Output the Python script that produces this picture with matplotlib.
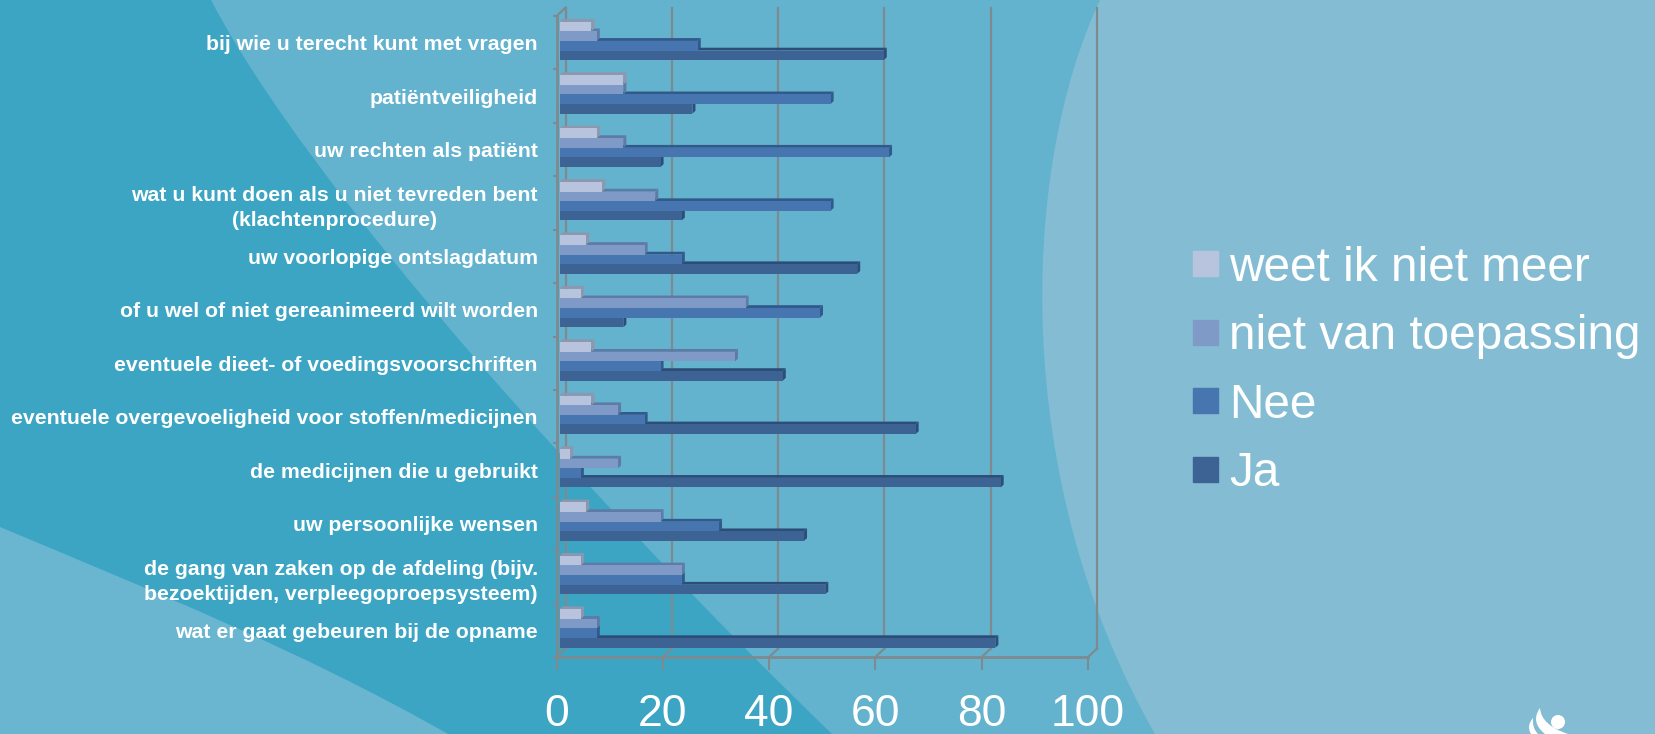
import numpy as np
import matplotlib
matplotlib.use('Agg')
import matplotlib.pyplot as plt
from matplotlib.patches import PathPatch, Circle
from matplotlib.path import Path

plt.rcParams['font.family'] = ['Liberation Sans', 'DejaVu Sans']

categories = ['bij wie u terecht kunt met vragen', 'patiëntveiligheid', 'uw rechten als patiënt',
              'wat u kunt doen als u niet tevreden bent\n(klachtenprocedure)', 'uw voorlopige ontslagdatum',
              'of u wel of niet gereanimeerd wilt worden', 'eventuele dieet- of voedingsvoorschriften',
              'eventuele overgevoeligheid voor stoffen/medicijnen', 'de medicijnen die u gebruikt',
              'uw persoonlijke wensen', 'de gang van zaken op de afdeling (bijv.\nbezoektijden, verpleegoproepsysteem)',
              'wat er gaat gebeuren bij de opname']
weet = [6, 12, 7, 8, 5, 4, 6, 6, 2, 5, 4, 4]
niet = [7, 12, 12, 18, 16, 35, 33, 11, 11, 19, 23, 7]
nee = [26, 51, 62, 51, 23, 49, 19, 16, 4, 30, 23, 7]
ja = [61, 25, 19, 23, 56, 12, 42, 67, 83, 46, 50, 82]
xticks = [0, 20, 40, 60, 80, 100]

series = [('Ja', ja, '#3D6395', '#2C4D78'), ('Nee', nee, '#4675B0', '#31598C'),
          ('niet van toepassing', niet, '#7F9AC6', '#5E7AA6'), ('weet ik niet meer', weet, '#B8C4DE', '#8E97AE')]

W, H = 1656, 734
fig = plt.figure(figsize=(W / 100, H / 100), dpi=100)

# background shapes, in pixels
bg = fig.add_axes([0, 0, 1, 1])
bg.set_xlim(0, W)
bg.set_ylim(H, 0)
bg.axis('off')
bg.add_patch(plt.Rectangle((0, 0), W, H, color='#84BDD3', lw=0))
bg.add_patch(PathPatch(Path([(0, 0), (1100, 0), (1020, 170), (1010, 480), (1155, 734), (0, 734), (0, 0)],
                            [1, 2, 4, 4, 4, 2, 79]), fc='#63B3CE', lw=0))
bg.add_patch(PathPatch(Path([(0, 0), (211, 0), (310, 190), (600, 510), (832, 734), (0, 734), (0, 0)],
                            [1, 2, 4, 4, 4, 2, 79]), fc='#3CA5C4', lw=0))
bg.add_patch(PathPatch(Path([(0, 527), (150, 590), (300, 650), (448, 734), (0, 734), (0, 527)],
                            [1, 4, 4, 4, 2, 79]), fc='#6AB6D1', lw=0))
# logo, cut off by the bottom edge
bg.add_patch(Circle((1558, 722), 7, fc='white', lw=0))
bg.add_patch(PathPatch(Path([(1540, 708), (1541, 725), (1568, 734), (1545, 734), (1530, 722), (1540, 708)],
                            [1, 3, 3, 2, 3, 3]), fc='white', lw=0))
bg.add_patch(PathPatch(Path([(1533, 718), (1526, 726), (1531, 734), (1538, 734), (1532, 728), (1533, 718)],
                            [1, 3, 3, 2, 3, 3]), fc='white', lw=0))

# front plane of the 3d box
x0, x1, y0, y1 = 556.6, 1088, 16, 657
ax = fig.add_axes([x0 / W, 1 - y1 / H, (x1 - x0) / W, (y1 - y0) / H])
ax.patch.set_alpha(0)
n = len(categories)
ax.set_xlim(0, 100)
ax.set_ylim(n, 0)
px_x = 100 / (x1 - x0)
px_y = n / (y1 - y0)

# back wall
grey = '#7E8A90'
dx, dy = 9 * px_x, 8.5 * px_y
for t in xticks:
    ax.plot([t, t + dx], [n, n - dy], color=grey, lw=1.6, clip_on=False, zorder=1)
    ax.plot([t + dx, t + dx], [n - dy, -dy], color=grey, lw=1.6, clip_on=False, zorder=1)
ax.plot([0, dx], [0, -dy], color=grey, lw=1.6, clip_on=False, zorder=1)

# bars, lowest first so the upper ones lie over the top faces
bar_h = 0.18
shift_x = 3 * px_x
shift_y = -0.034
bx, by = 3 * px_x, 2.8 * px_y
offsets = [0.27, 0.09, -0.09, -0.27]
for i in range(n):
    for (name, vals, col, dark), off in zip(series, offsets):
        v = vals[i]
        yc = i + 0.5 + off + shift_y
        top = yc - bar_h / 2
        bot = yc + bar_h / 2
        ax.fill([shift_x, shift_x + bx, shift_x + v + bx, shift_x + v], [top, top - by, top - by, top],
                color=dark, lw=0, clip_on=False, zorder=3)
        ax.fill([shift_x + v, shift_x + v + bx, shift_x + v + bx, shift_x + v], [top, top - by, bot - by, bot],
                color=dark, lw=0, clip_on=False, zorder=3)
        ax.barh(yc, v, height=bar_h, left=shift_x, color=col, lw=0, zorder=3)

for s in ['top', 'right']:
    ax.spines[s].set_visible(False)
for s in ['left', 'bottom']:
    ax.spines[s].set_color(grey)
    ax.spines[s].set_linewidth(2)
    ax.spines[s].set_zorder(4)

ax.set_xticks(xticks)
ax.tick_params(axis='x', length=9.5, width=1.5, color=grey, labelsize=32, labelcolor='white', pad=17.5)
ax.set_yticks(np.arange(n) + 0.5)
ax.set_yticklabels(categories, fontweight='bold', fontsize=15.3, color='white', multialignment='center', linespacing=1.38)
ax.tick_params(axis='y', which='major', length=0, pad=13.5)
ax.set_yticks(np.arange(n + 1), minor=True)
ax.tick_params(axis='y', which='minor', length=3, width=1.5, color=grey)

handles = [plt.Rectangle((0, 0), 1, 1, color=s[2]) for s in series[::-1]]
labels = [s[0] for s in series[::-1]]
fig.legend(handles, labels, loc='center left', bbox_to_anchor=(1193 / W, 1 - 371 / H), frameon=False,
           fontsize=34.4, labelcolor='white', handlelength=0.52, handleheight=0.43, handletextpad=0.24,
           labelspacing=0.49, borderpad=0, borderaxespad=0)

fig.savefig('out.png', dpi=100)
